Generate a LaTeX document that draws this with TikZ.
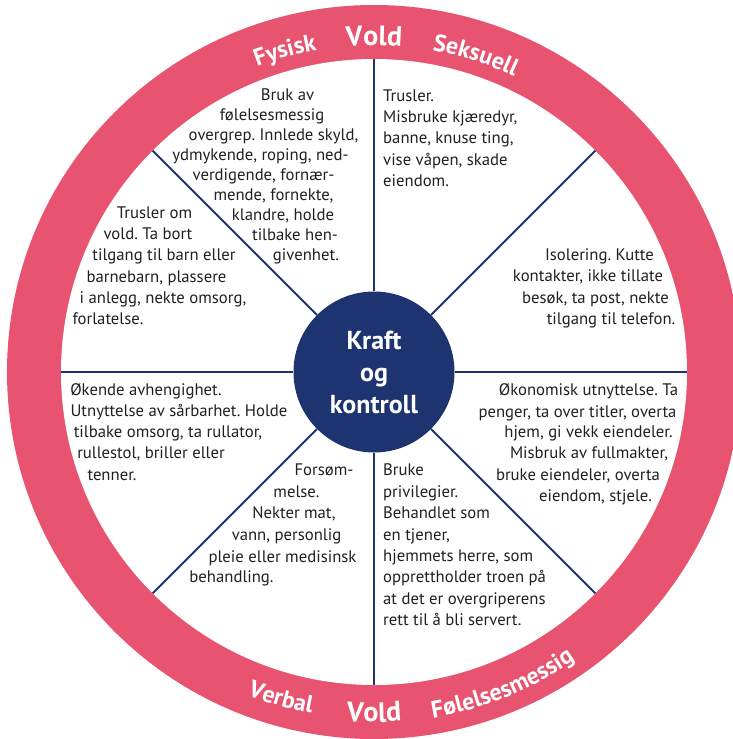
\documentclass[tikz,border=0pt]{standalone}
\usepackage{fontspec}
\setmainfont{PT Sans}
\usetikzlibrary{decorations.text,calc}
\definecolor{ringpink}{HTML}{E8536F}
\definecolor{navy}{HTML}{1E3470}
\definecolor{ink}{HTML}{231F20}
\frenchspacing
\begin{document}
\begin{tikzpicture}[x=1pt,y=1pt,
  body/.style={anchor=base, inner sep=0pt, text=ink, font=\fontsize{16.7}{20}\selectfont},
  bodyleft/.style={body, anchor=base west},
  spoke/.style={draw=navy, line width=2pt},
  ringlabel/.style={decorate, decoration={text along path, text color=white, text align=center,
     text={|\bfseries\fontsize{24}{24}\selectfont|#1}}},
  ringbig/.style={decorate, decoration={text along path, text color=white, text align=center,
     text={|\bfseries\fontsize{28}{28}\selectfont|#1}}},
  ]
\useasboundingbox (0,0) rectangle (732,-739);
\coordinate (C) at (374,-372);
\fill[ringpink] (C) circle[radius=367pt];
\fill[white] (C) circle[radius=313pt];
\node[circle, fill=navy, minimum size=161pt, inner sep=0pt, text=white,
      font=\bfseries\fontsize{26}{32}\selectfont, align=center] (hub) at (C) {Kraft\\og\\kontroll};
\foreach \a in {0,45,...,315} {
  \coordinate (rim\a) at ($(C)+(\a:313pt)$);
  \draw[spoke] (hub.\a) -- (rim\a);
}
% ring labels
\path[ringlabel=Fysisk] ($(C)+(130.5:327pt)$) arc[start angle=130.5, end angle=80.5, radius=327pt];
\path[ringbig=Vold] ($(C)+(110:327pt)$) arc[start angle=110, end angle=70, radius=327pt];
\path[ringlabel=Seksuell] ($(C)+(102.2:327pt)$) arc[start angle=102.2, end angle=42.2, radius=327pt];
\path[ringlabel=Verbal] ($(C)+(234.1:347pt)$) arc[start angle=234.1, end angle=274.1, radius=347pt];
\path[ringbig=Vold] ($(C)+(250:350pt)$) arc[start angle=250, end angle=290, radius=350pt];
\path[ringlabel=Følelsesmessig] ($(C)+(262.3:351pt)$) arc[start angle=262.3, end angle=322.3, radius=351pt];
% block A
\foreach \x/\y/\t [count=\i] in {287.5/100/{Bruk av}, 272/120/{følelsesmessig},
  273.5/140/{overgrep. Innlede skyld,}, 260.5/160/{ydmykende, roping, ned-},
  263.5/180/{verdigende, fornær-}, 273.5/200/{mende, fornekte,}, 283/220/{klandre, holde},
  295/240/{tilbake hen-}, 306/260/{givenhet.}}
  \node[body] (a\i) at (\x,-\y) {\t};
% block B
\foreach \y/\t [count=\i] in {101/{Trusler.}, 122/{Misbruke kjæredyr,}, 143/{banne, knuse ting,},
  165/{vise våpen, skade}, 186/{eiendom.}}
  \node[bodyleft] (b\i) at (383,-\y) {\t};
% block C
\foreach \x/\y/\t [count=\i] in {599.5/260/{Isolering. Kutte}, 588/281/{kontakter, ikke tillate},
  595.5/303/{besøk, ta post, nekte}, 611/324/{tilgang til telefon.}}
  \node[body] (c\i) at (\x,-\y) {\t};
% block D
\foreach \x/\y/\t [count=\i] in {154.5/218/{Trusler om}, 148/239/{vold. Ta bort},
  164/260/{tilgang til barn eller}, 156.5/282/{barnebarn, plassere},
  163/303/{i anlegg, nekte omsorg,}, 108/324/{forlatelse.}}
  \node[body] (d\i) at (\x,-\y) {\t};
% block E
\foreach \x/\y/\t [count=\i] in {146/395/{Økende avhengighet.}, 179/416/{Utnyttelse av sårbarhet. Holde},
  168/437/{tilbake omsorg, ta rullator,}, 151/458/{rullestol, briller eller}, 112/480/{tenner.}}
  \node[body] (e\i) at (\x,-\y) {\t};
% block F
\foreach \x/\y/\t [count=\i] in {324/475/{Forsøm-}, 296.5/497/{melse.}, 294/518/{Nekter mat,},
  286.5/540/{vann, personlig}, 282.5/562/{pleie eller medisinsk}, 231.5/582/{behandling.}}
  \node[body] (f\i) at (\x,-\y) {\t};
% block G
\foreach \y/\t [count=\i] in {475/{Bruke}, 497/{privilegier.}, 518/{Behandlet som}, 540/{en tjener,},
  561/{hjemmets herre, som}, 582/{opprettholder troen på}, 604/{at det er overgriperens},
  625/{rett til å bli servert.}}
  \node[bodyleft] (g\i) at (383,-\y) {\t};
% block H
\foreach \x/\y/\t [count=\i] in {588.5/395/{Økonomisk utnyttelse. Ta}, 577.5/417/{penger, ta over titler, overta},
  588.5/437/{hjem, gi vekk eiendeler.}, 589/458/{Misbruk av fullmakter,},
  578/480/{bruke eiendeler, overta}, 595.5/501/{eiendom, stjele.}}
  \node[body] (h\i) at (\x,-\y) {\t};
\end{tikzpicture}
\end{document}
